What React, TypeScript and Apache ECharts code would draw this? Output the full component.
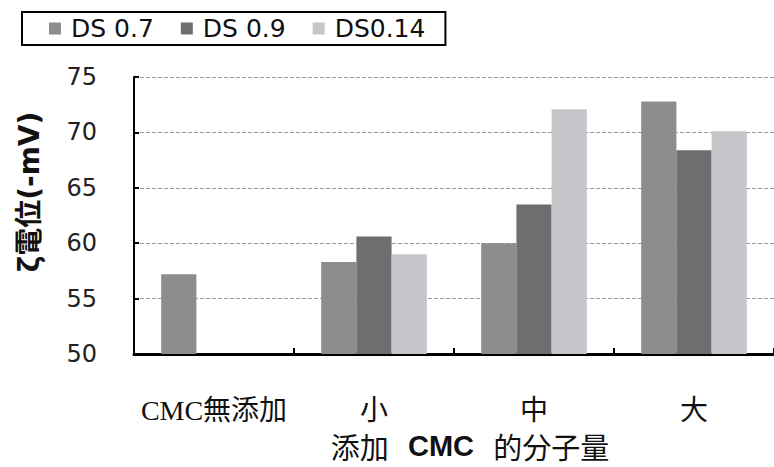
import React, { useEffect, useRef } from "react";
import * as echarts from "echarts";

const categories = ["CMC無添加", "小", "中", "大"];
const seriesNames = ["DS 0.7", "DS 0.9", "DS0.14"];
const ds07 = [57.2, 58.3, 60.0, 72.8];
const ds09 = [null, 60.6, 63.5, 68.4];
const ds014 = [null, 59.0, 72.1, 70.1];
const yTitle = "ζ電位(-mV)";
const xTitleA = "添加";
const xTitleB = "CMC";
const xTitleC = "的分子量";

const colors = ["#8d8d8f", "#6e6e70", "#c6c6ca"];

export default function App() {
  const ref = useRef<HTMLDivElement>(null);
  useEffect(() => {
    if (!ref.current) return;
    const chart = echarts.init(ref.current, null, { renderer: "svg" });
    const seriesData = [ds07, ds09, ds014];
    chart.setOption({
      animation: false,
      backgroundColor: "#ffffff",
      legend: {
        left: 22,
        top: 12,
        itemWidth: 12,
        itemHeight: 12,
        itemGap: 27,
        icon: "rect",
        borderColor: "#000",
        borderWidth: 2,
        padding: [4, 20, 4, 27],
        textStyle: {
          fontFamily: "DejaVu Sans",
          fontSize: 25,
          color: "#111",
          padding: [0, 0, 0, 5],
        },
        data: seriesNames,
      },
      grid: { left: 134, top: 77, width: 644, height: 277 },
      xAxis: {
        type: "category",
        data: categories,
        axisLine: { lineStyle: { color: "#000", width: 3 } },
        axisTick: { show: true, inside: true, length: 6, lineStyle: { color: "#000", width: 2 } },
        axisLabel: {
          interval: 0,
          hideOverlap: false,
          margin: 42,
          fontFamily: "Liberation Serif, Noto Sans CJK JP",
          fontSize: 28,
          color: "#111",
        },
      },
      yAxis: {
        type: "value",
        min: 50,
        max: 75,
        interval: 5,
        axisLine: { show: true, lineStyle: { color: "#000", width: 2 } },
        axisTick: { show: true, inside: true, length: 5, lineStyle: { color: "#000", width: 2 } },
        axisLabel: {
          margin: 37,
          fontFamily: "DejaVu Sans",
          fontSize: 24,
          color: "#222",
        },
        splitLine: { show: true, lineStyle: { color: "#9a9a9a", type: "dashed", width: 1 } },
      },
      graphic: [
        {
          type: "text",
          x: 29,
          y: 192,
          rotation: Math.PI / 2,
          style: {
            text: yTitle,
            fontFamily: "DejaVu Sans, Noto Sans CJK JP",
            fontWeight: "bold",
            fontSize: 28,
            fill: "#111",
            align: "center",
            verticalAlign: "middle",
          },
        },
        {
          type: "text",
          x: 470,
          y: 446,
          style: {
            text: "{c|" + xTitleA + "} {b|" + xTitleB + "} {c|" + xTitleC + "}",
            align: "center",
            verticalAlign: "middle",
            rich: {
              c: { fontFamily: "Noto Sans CJK JP", fontSize: 29, lineHeight: 30, fill: "#111" },
              b: { fontFamily: "Liberation Sans", fontWeight: "bold", fontSize: 29, lineHeight: 30, fill: "#111", padding: [0, 16, 0, 16] },
            },
          },
        },
      ],
      series: seriesNames.map((name, i) => ({
        name,
        type: "bar",
        data: seriesData[i],
        barGap: "0%",
        barCategoryGap: "34%",
        itemStyle: { color: colors[i] },
      })),
    });
    return () => chart.dispose();
  }, []);
  return (
    <div
      ref={ref}
      style={{ position: "absolute", left: 0, top: 0, width: 774, height: 467 }}
    />
  );
}
